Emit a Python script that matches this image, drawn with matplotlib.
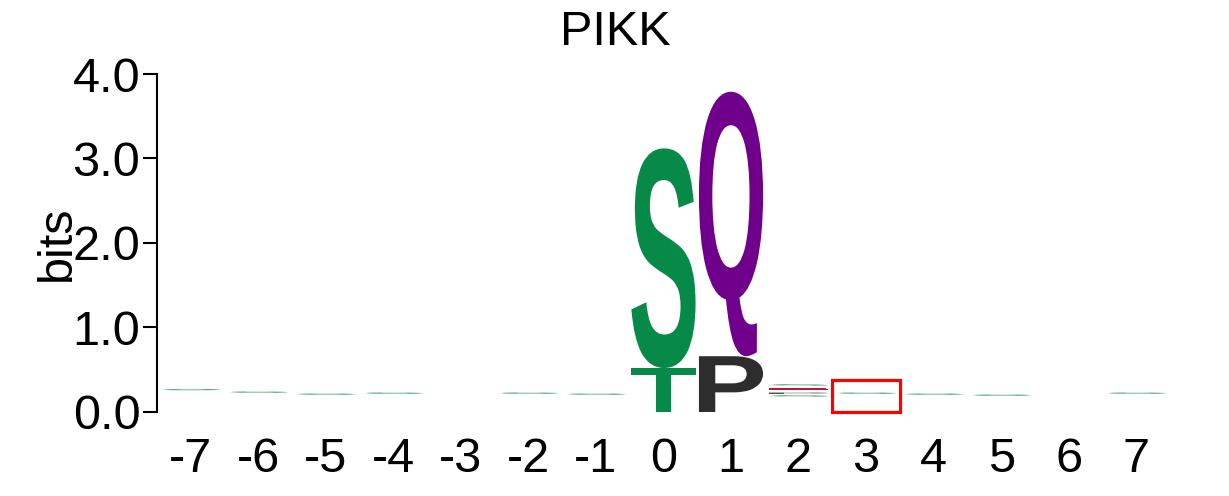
import matplotlib
matplotlib.use("Agg")
import matplotlib.pyplot as plt
from matplotlib.textpath import TextPath
from matplotlib.patches import PathPatch, Rectangle
from matplotlib.font_manager import FontProperties
from matplotlib.transforms import Affine2D

plt.rcParams['font.family'] = ['Liberation Sans', 'DejaVu Sans']

positions = list(range(-7, 8))
tick_labels = [str(p) for p in positions]

# tall stacks, bottom to top
stack_pos = [0, 1]
stack_letters = [["T", "S"], ["P", "Q"]]
stack_bits = [[0.52, 2.60], [0.66, 3.13]]

faint_pos = [-7, -6, -5, -4, -2, -1, 2, 2, 2, 2, 3, 4, 5, 7]
faint_letters = ["S", "S", "S", "S", "S", "S", "S", "P", "E", "S", "S", "S", "S", "S"]
faint_bits = [0.265, 0.234, 0.21, 0.222, 0.222, 0.21, 0.19, 0.222, 0.273, 0.32,
              0.222, 0.21, 0.198, 0.222]

highlight_pos = 3
highlight_top = 0.38

colors = {"S": "#078a48", "T": "#078a48", "P": "#2d2d2d",
          "Q": "#70008c", "E": "#c4123a"}

glyph_font = FontProperties(family='Liberation Sans', weight='bold')


def draw_letter(ax, letter, x, y, w, h, color):
    # stretch the glyph outline to fill the box (x-w/2, y, w, h)
    tp = TextPath((0, 0), letter, size=1, prop=glyph_font)
    ext = tp.get_extents()
    tr = (Affine2D().translate(-ext.x0, -ext.y0)
          .scale(w / ext.width, h / ext.height)
          .translate(x - w / 2, y))
    ax.add_patch(PathPatch(tr.transform_path(tp), fc=color, ec='none', lw=0))


fig = plt.figure(figsize=(12.29, 4.96), dpi=100)
ax = fig.add_axes([0.1277, 0.1694, 0.8243, 0.6814])

for p, letters, bits in zip(stack_pos, stack_letters, stack_bits):
    y = 0.0
    for letter, b in zip(letters, bits):
        draw_letter(ax, letter, p, y, 0.95, b, colors[letter])
        y += b

thin = 0.014
for p, letter, b in zip(faint_pos, faint_letters, faint_bits):
    draw_letter(ax, letter, p, b - thin / 2, 0.88, thin, colors[letter])

ax.add_patch(Rectangle((highlight_pos - 0.5, 0), 1.0, highlight_top,
                       fill=False, ec='#ff0000', lw=2.3, clip_on=False, zorder=5))

ax.set_xlim(-7.5, 7.5)
ax.set_ylim(0, 4)
for s in ['top', 'right', 'bottom']:
    ax.spines[s].set_visible(False)
ax.spines['left'].set_linewidth(1.5)

ax.set_yticks([0, 1, 2, 3, 4])
ax.set_yticklabels(["0.0", "1.0", "2.0", "3.0", "4.0"])
ax.set_xticks(positions)
ax.set_xticklabels(tick_labels)
ax.tick_params(axis='y', length=10, width=1.5, pad=2, labelsize=35)
ax.tick_params(axis='x', length=0, pad=18, labelsize=35)

ax.set_ylabel("bits", fontsize=35)
ax.yaxis.set_label_coords(-0.076, 0.5)

# title is centred on the whole figure, not the axes
fig.text(0.501, 0.909, "PIKK", fontsize=35, ha='center', va='baseline')

fig.savefig("out.png", dpi=100)
